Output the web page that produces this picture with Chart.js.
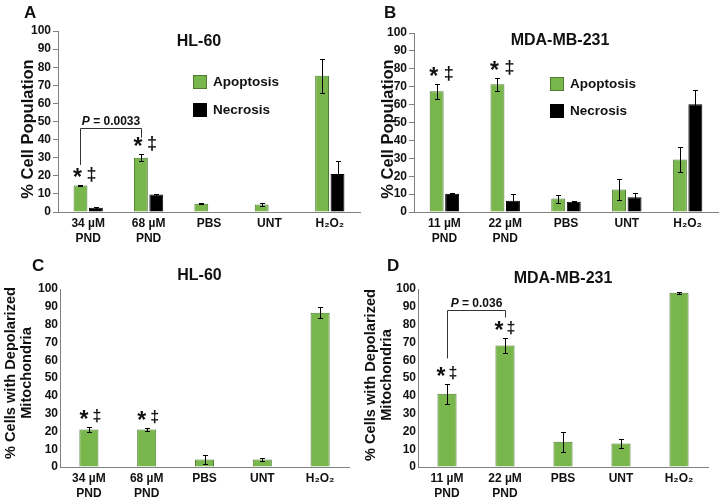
<!DOCTYPE html>
<html>
<head>
<meta charset="utf-8">
<script src="https://cdn.jsdelivr.net/npm/chart.js@4.4.1/dist/chart.umd.min.js"></script>
<style>
  body { margin: 0; background: #fff; width: 721px; height: 501px; position: relative; overflow: hidden;
         font-family: "Liberation Sans", Arial, sans-serif; font-weight: bold; color: #111; }
  canvas { position: absolute; }
  .txt { position: absolute; white-space: nowrap; line-height: 1; }
  .ytitle { position: absolute; white-space: nowrap; text-align: center; transform: translate(-50%, -50%) rotate(-90deg); }
  .box { position: absolute; width: 14px; height: 14px; box-sizing: border-box; }
</style>
</head>
<body>
<canvas id="chartA" width="362" height="250" style="left:0;top:0"></canvas>
<canvas id="chartB" width="359" height="250" style="left:362px;top:0"></canvas>
<canvas id="chartC" width="362" height="251" style="left:0;top:250px"></canvas>
<canvas id="chartD" width="359" height="251" style="left:362px;top:250px"></canvas>
<script>
// categories
const labelsHL = [["34 µM", "PND"], ["68 µM", "PND"], "PBS", "UNT", "H₂O₂"];
const labelsMDA = [["11 µM", "PND"], ["22 µM", "PND"], "PBS", "UNT", "H₂O₂"];

// A - HL-60 cell population
const hlApoptosis = [14.6, 30, 4.5, 4.2, 75.3];
const hlApoptosisErr = [0.5, 2, 0.3, 0.8, 9.5];
const hlNecrosis = [2.3, 9.6, 0.3, 0.3, 21];
const hlNecrosisErr = [0.4, 0.5, 0, 0, 7.3];

// B - MDA-MB-231 cell population
const mdaApoptosis = [67.5, 71.3, 7.5, 12.6, 29.3];
const mdaApoptosisErr = [4.2, 3.6, 2.2, 5.7, 7];
const mdaNecrosis = [10.2, 6.3, 5.7, 8.3, 60.2];
const mdaNecrosisErr = [0.4, 3.8, 0.3, 2.4, 7.8];

// C / D - depolarized mitochondria
const hlDepol = [21.1, 21, 4.2, 4.2, 86.7];
const hlDepolErr = [1.5, 1, 2.3, 0.6, 3];
const mdaDepol = [41.1, 68.3, 14.2, 13.2, 97.9];
const mdaDepolErr = [5.8, 4.1, 5.6, 2.4, 0.6];

const yMin = 0, yMax = 100, yStep = 10;

const FONT = "'Liberation Sans', Arial, sans-serif";
const GREEN = "#79b64b";
const GREEN_EDGE = "#4d7c30";
const AXIS = "#808080";

// error bars + significance marks
const extrasPlugin = {
    id: "extras",
    afterDatasetsDraw(chart, args, opts) {
        let ctx = chart.ctx;
        let yScale = chart.scales.y;
        ctx.save();
        ctx.strokeStyle = "#000";
        ctx.lineWidth = 1;
        chart.data.datasets.forEach((ds, i) => {
            let meta = chart.getDatasetMeta(i);
            meta.data.forEach((bar, j) => {
                let err = ds.errors[j];
                if (!err) return;
                let top = Math.round(yScale.getPixelForValue(ds.data[j] + err)) + 0.5;
                let bot = Math.round(yScale.getPixelForValue(ds.data[j] - err)) + 0.5;
                let x = Math.round(bar.x) + 0.5;
                ctx.beginPath();
                ctx.moveTo(x, top); ctx.lineTo(x, bot);
                ctx.moveTo(x - 2.5, top); ctx.lineTo(x + 2.5, top);
                ctx.moveTo(x - 2.5, bot); ctx.lineTo(x + 2.5, bot);
                ctx.stroke();
            });
        });

        if (!opts.stars) { ctx.restore(); return; }
        let ds0 = chart.data.datasets[0];
        let bars = chart.getDatasetMeta(0).data;
        ctx.fillStyle = "#111";
        ctx.textAlign = "center";
        ctx.textBaseline = "middle";
        for (const idx of opts.stars) {
            let x = bars[idx].x;
            let y = yScale.getPixelForValue(ds0.data[idx] + ds0.errors[idx]) - 10;
            ctx.font = "bold 23px " + FONT;
            ctx.fillText("*", x + opts.starDx[0], y + 4);
            ctx.font = "bold " + opts.daggerSize + "px " + FONT;
            ctx.fillText("‡", x + opts.starDx[1], y);
        }

        let br = opts.bracket;
        if (br) {
            let x1 = Math.round(bars[br.from].x) + 0.5;
            let x2 = Math.round(bars[br.to].x) + 0.5;
            let yTop = Math.round(yScale.getPixelForValue(br.top)) + 0.5;
            ctx.strokeStyle = "#333";
            ctx.beginPath();
            ctx.moveTo(x1, yScale.getPixelForValue(br.left));
            ctx.lineTo(x1, yTop);
            ctx.lineTo(x2, yTop);
            ctx.lineTo(x2, yScale.getPixelForValue(br.right));
            ctx.stroke();

            ctx.textBaseline = "alphabetic";
            ctx.textAlign = "left";
            let fItal = "italic bold 12px " + FONT;
            let fBold = "bold 12px " + FONT;
            ctx.font = fItal;
            let w1 = ctx.measureText("P").width;
            ctx.font = fBold;
            let w2 = ctx.measureText(" = " + br.text).width;
            let sx = (x1 + x2) / 2 - (w1 + w2) / 2;
            ctx.font = fItal;
            ctx.fillText("P", sx, yTop - 4);
            ctx.font = fBold;
            ctx.fillText(" = " + br.text, sx + w1, yTop - 4);
        }
        ctx.restore();
    }
};

const makeChart = (id, labels, datasets, area, barPct, tickLen, marks) => {
    let canvas = document.getElementById(id);
    let W = canvas.width, H = canvas.height;
    return new Chart(canvas, {
        type: "bar",
        data: { labels: labels, datasets: datasets },
        plugins: [extrasPlugin],
        options: {
            responsive: false,
            animation: false,
            devicePixelRatio: 1,
            categoryPercentage: barPct[0],
            barPercentage: barPct[1],
            layout: { padding: { top: area.top, right: W - area.right, left: 0, bottom: 0 } },
            plugins: {
                legend: { display: false },
                tooltip: { enabled: false },
                extras: marks
            },
            scales: {
                x: {
                    offset: true,
                    grid: { display: false, drawTicks: false },
                    border: { display: true, color: AXIS, width: 1 },
                    ticks: {
                        color: "#111", padding: 4, maxRotation: 0, autoSkip: false,
                        font: { family: FONT, size: 12, weight: "bold", lineHeight: 1.25 }
                    },
                    afterFit: (s) => { s.height = H - area.bottom; }
                },
                y: {
                    min: yMin, max: yMax,
                    grid: { drawOnChartArea: false, drawTicks: tickLen > 0, tickLength: tickLen, color: AXIS },
                    border: { display: true, color: AXIS, width: 1 },
                    ticks: {
                        stepSize: yStep, color: "#111", padding: 2,
                        font: { family: FONT, size: 12, weight: "bold" }
                    },
                    afterFit: (s) => { s.width = area.left; }
                }
            }
        }
    });
};

const greenSet = (label, data, errors) => ({
    label: label, data: data, errors: errors,
    backgroundColor: GREEN, borderColor: GREEN_EDGE, borderWidth: 1
});
const blackSet = (label, data, errors) => ({
    label: label, data: data, errors: errors,
    backgroundColor: "#000", borderColor: "#000", borderWidth: 1
});

makeChart("chartA", labelsHL,
    [greenSet("Apoptosis", hlApoptosis, hlApoptosisErr), blackSet("Necrosis", hlNecrosis, hlNecrosisErr)],
    { left: 58, right: 360, top: 31, bottom: 212 }, [0.51, 0.9], 5,
    { stars: [0, 1], daggerSize: 18, starDx: [-3, 11], bracket: { from: 0, to: 1, left: 26, right: 41, top: 46.5, text: "0.0033" } });

makeChart("chartB", labelsMDA,
    [greenSet("Apoptosis", mdaApoptosis, mdaApoptosisErr), blackSet("Necrosis", mdaNecrosis, mdaNecrosisErr)],
    { left: 52, right: 356, top: 33, bottom: 212 }, [0.51, 0.9], 5,
    { stars: [0, 1], daggerSize: 18, starDx: [-3, 12] });

makeChart("chartC", labelsHL,
    [greenSet("Depolarized", hlDepol, hlDepolErr)],
    { left: 60, right: 349, top: 39, bottom: 217 }, [0.33, 1], 0,
    { stars: [0, 1], daggerSize: 16, starDx: [-5, 8] });

makeChart("chartD", labelsMDA,
    [greenSet("Depolarized", mdaDepol, mdaDepolErr)],
    { left: 56, right: 346, top: 39, bottom: 217 }, [0.33, 1], 0,
    { stars: [0, 1], daggerSize: 16, starDx: [-6, 6], bracket: { from: 0, to: 1, left: 61, right: 84, top: 88, text: "0.036" } });

// text overlays
const addText = (txt, x, y, size, center) => {
    let div = document.createElement("div");
    div.className = "txt";
    div.textContent = txt;
    div.style.fontSize = size + "px";
    div.style.top = (y - size * 0.49) + "px";
    div.style.left = x + "px";
    if (center) {
        div.style.transform = "translateX(-50%)";
    }
    document.body.appendChild(div);
};

const addYTitle = (lines, cx, cy, size, lh) => {
    let div = document.createElement("div");
    div.className = "ytitle";
    div.innerHTML = lines.join("<br>");
    div.style.fontSize = size + "px";
    div.style.lineHeight = lh + "px";
    div.style.left = cx + "px";
    div.style.top = cy + "px";
    document.body.appendChild(div);
};

const addLegendBox = (x, y, color, edge) => {
    let div = document.createElement("div");
    div.className = "box";
    div.style.left = x + "px";
    div.style.top = y + "px";
    div.style.background = color;
    div.style.border = "1px solid " + edge;
    document.body.appendChild(div);
};

addText("A", 24, 12, 17, false);
addText("B", 384, 12, 17, false);
addText("C", 32, 265, 17, false);
addText("D", 387, 265, 17, false);

addText("HL-60", 199, 41, 16, true);
addText("MDA-MB-231", 560, 40, 16, true);
addText("HL-60", 199.5, 275, 16, true);
addText("MDA-MB-231", 563, 278, 16, true);

addYTitle(["% Cell Population"], 27, 128.5, 16.5, 19);
addYTitle(["% Cell Population"], 387, 129, 16.5, 19);
addYTitle(["% Cells with Depolarized", "Mitochondria"], 18, 373, 14.6, 16);
addYTitle(["% Cells with Depolarized", "Mitochondria"], 378, 375, 14.6, 16);

addLegendBox(193, 75, GREEN, GREEN_EDGE);
addText("Apoptosis", 213, 82, 13.5, false);
addLegendBox(193, 103, "#000", "#000");
addText("Necrosis", 213, 110, 13.5, false);

addLegendBox(550, 77, GREEN, GREEN_EDGE);
addText("Apoptosis", 570, 84, 13.5, false);
addLegendBox(550, 104, "#000", "#000");
addText("Necrosis", 570, 111, 13.5, false);
</script>
</body>
</html>
